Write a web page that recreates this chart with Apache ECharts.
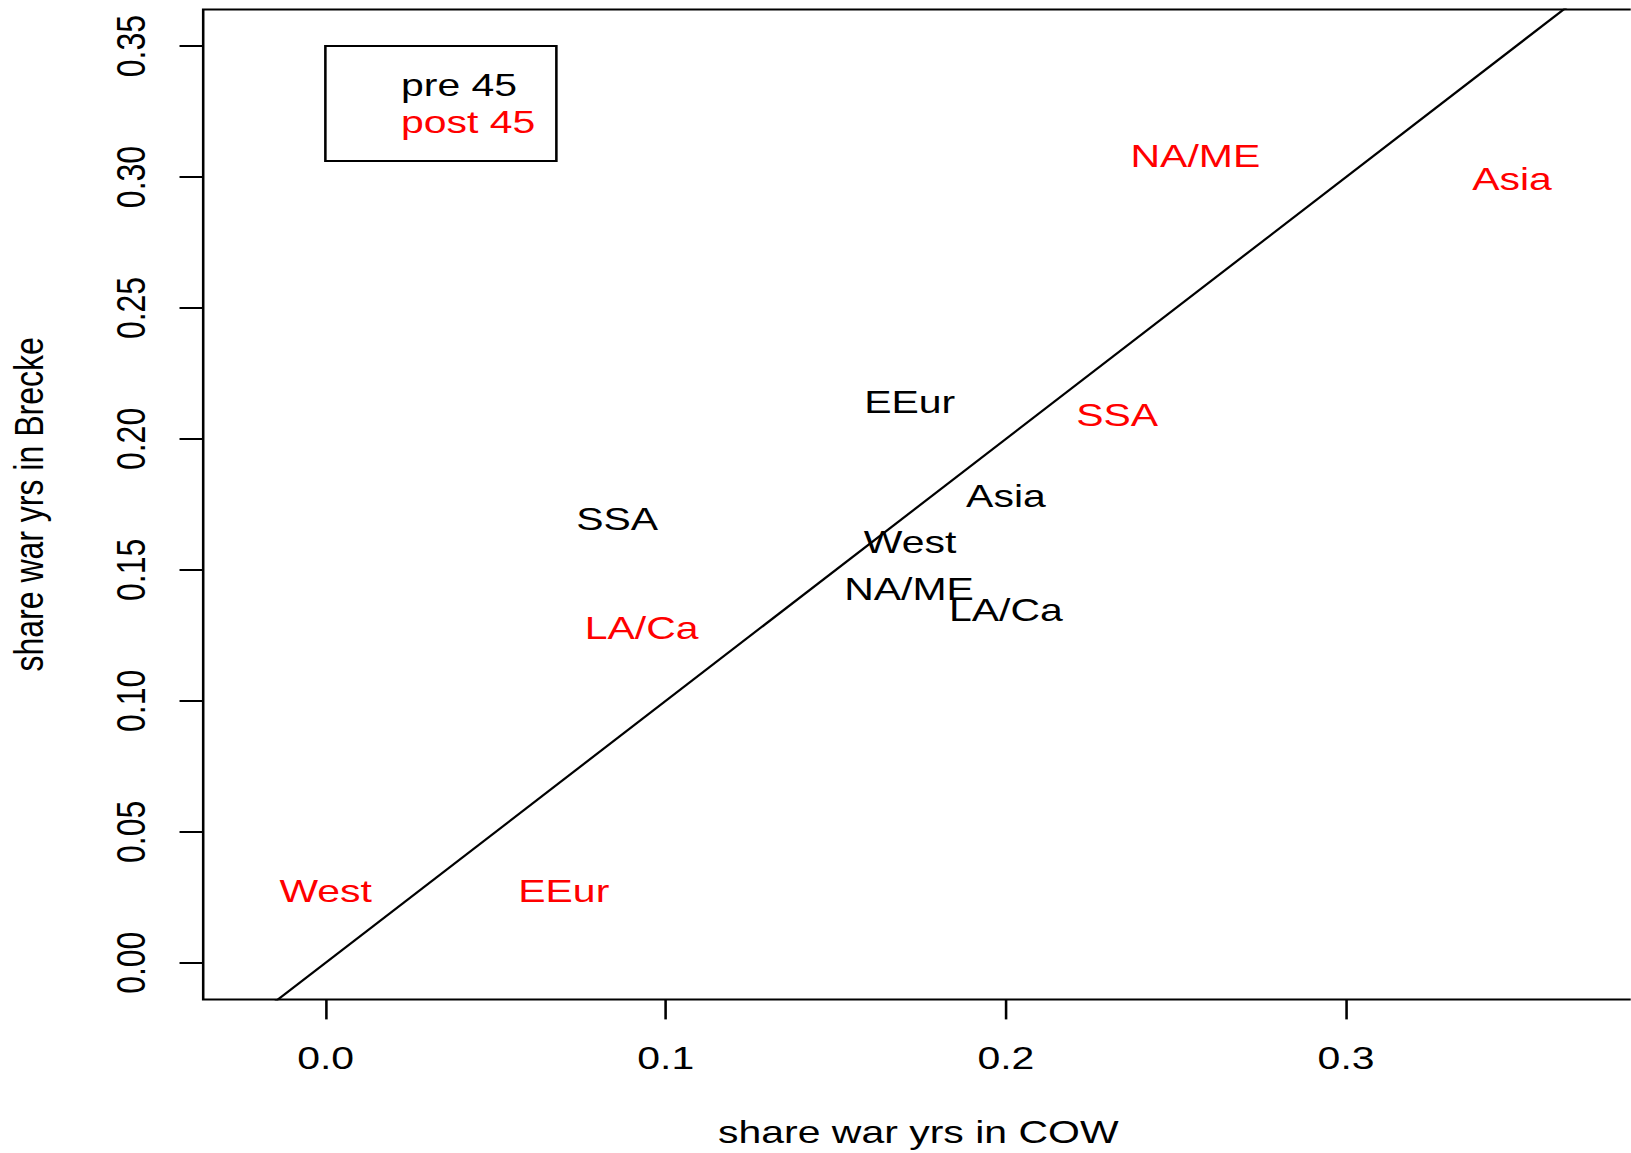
<!DOCTYPE html>
<html>
<head>
<meta charset="utf-8">
<script src="https://cdn.jsdelivr.net/npm/echarts@6/dist/echarts.min.js"></script>
<style>
  html, body { margin: 0; padding: 0; background: #fff; overflow: hidden; }
  #wrap { width: 1631px; height: 1153px; overflow: hidden; position: relative; }
  #chart { width: 1274.2px; height: 1153px; transform: scaleX(1.28); transform-origin: 0 0; position: absolute; left: 0; top: 0; }
</style>
</head>
<body>
<div id="wrap"><div id="chart"></div></div>
<script>
// ---- data ----
const regions = ['West', 'EEur', 'LA/Ca', 'NA/ME', 'SSA', 'Asia'];
const preX  = [0.1718, 0.1717, 0.2000, 0.1715, 0.0857, 0.2000];
const preY  = [0.1605, 0.2139, 0.1346, 0.1426, 0.1694, 0.1783];
const postX = [0.0000, 0.0700, 0.0929, 0.2557, 0.2327, 0.3488];
const postY = [0.0273, 0.0273, 0.1276, 0.3081, 0.2090, 0.2992];
const diagonal = [-0.1, 0.5];           // abline y = x
const xTicks = [0, 0.1, 0.2, 0.3];
const yTicks = [0, 0.05, 0.10, 0.15, 0.20, 0.25, 0.30, 0.35];
const seriesNames = ['pre 45', 'post 45'];
const seriesColors = ['#000000', '#ff0000'];

const FONT = 'Liberation Sans, Arial, Helvetica, sans-serif';
const FS = 32;

function pts(xs, ys) {
  return regions.map((r, i) => ({ name: r, value: [xs[i], ys[i]] }));
}

function labelSeries(name, color, data) {
  return {
    name: name,
    type: 'scatter',
    data: data,
    symbol: 'circle',
    symbolSize: 1,
    itemStyle: { color: color, opacity: 0 },
    silent: true,
    label: {
      show: true,
      position: 'inside',
      formatter: p => p.name,
      color: color,
      opacity: 1,
      textBorderWidth: 0,
      textBorderColor: 'transparent',
      fontFamily: FONT,
      fontSize: FS,
      lineHeight: FS,
      align: 'center',
      verticalAlign: 'middle'
    },
    emphasis: { disabled: true }
  };
}

const chart = echarts.init(document.getElementById('chart'), null, { renderer: 'svg', width: 1274.2, height: 1153 });

chart.setOption({
  animation: false,
  backgroundColor: '#ffffff',
  grid: {
    left: 158.75, top: 9.4, width: 1158.6, height: 990,
    outerBoundsMode: 'none',
    containLabel: false,
    show: true, borderColor: '#000', borderWidth: 2, backgroundColor: 'transparent'
  },
  legend: {
    orient: 'vertical',
    left: 254.2, top: 46,
    icon: 'none',
    itemWidth: 30, itemHeight: 14, itemGap: 4.6,
    padding: [23.6, 16.4, 22.8, 24.1],
    borderColor: '#000', borderWidth: 2,
    selectedMode: false,
    textStyle: { fontFamily: FONT, fontSize: FS, lineHeight: FS },
    data: [
      { name: seriesNames[0], textStyle: { color: seriesColors[0] } },
      { name: seriesNames[1], textStyle: { color: seriesColors[1] } }
    ]
  },
  xAxis: {
    type: 'value',
    min: -0.036, max: 0.40,
    name: 'share war yrs in COW',
    nameLocation: 'middle',
    nameGap: 117,
    nameTextStyle: { fontFamily: FONT, fontSize: FS, lineHeight: FS, color: '#000', padding: [0, 41.3, 0, 0] },
    axisLine: { show: false, onZero: false },
    splitLine: { show: false },
    axisTick: { show: true, inside: false, length: 20, lineStyle: { color: '#000', width: 2 }, customValues: xTicks },
    axisLabel: {
      show: true, margin: 43, color: '#000', fontFamily: FONT, fontSize: FS, lineHeight: FS,
      customValues: xTicks,
      formatter: v => v.toFixed(1)
    }
  },
  yAxis: {
    type: 'value',
    min: -0.014, max: 0.364,
    name: 'share war yrs in Brecke',
    nameLocation: 'middle',
    nameRotate: 90,
    nameGap: 120,
    nameTextStyle: { fontFamily: FONT, fontSize: FS, lineHeight: FS, color: '#000' },
    axisLine: { show: false, onZero: false },
    splitLine: { show: false },
    axisTick: { show: true, inside: false, length: 18.5, lineStyle: { color: '#000', width: 2 }, customValues: yTicks },
    axisLabel: {
      show: true, rotate: 90, margin: 40.5, color: '#000', fontFamily: FONT, fontSize: FS, lineHeight: FS,
      customValues: yTicks,
      formatter: v => v.toFixed(2)
    }
  },
  series: [
    {
      name: 'diag',
      type: 'line',
      data: diagonal.map(v => [v, v]),
      symbol: 'none',
      clip: true,
      silent: true,
      lineStyle: { color: '#000', width: 2 },
      emphasis: { disabled: true }
    },
    labelSeries(seriesNames[0], seriesColors[0], pts(preX, preY)),
    labelSeries(seriesNames[1], seriesColors[1], pts(postX, postY))
  ]
});
</script>
</body>
</html>
